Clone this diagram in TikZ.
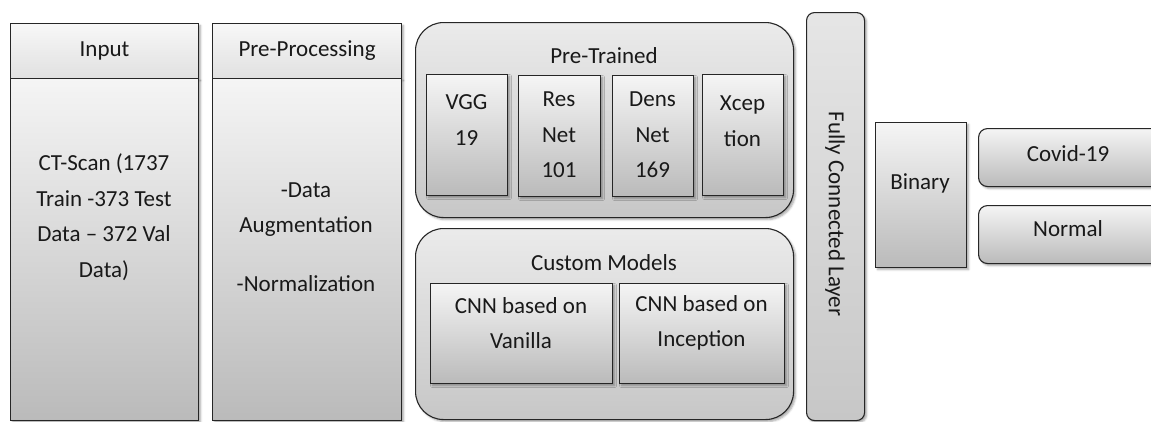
\documentclass[tikz,border=0pt]{standalone}
\usepackage{fontspec}
\setmainfont{Carlito}
\usetikzlibrary{shadows.blur}
\begin{document}
\begin{tikzpicture}[x=1pt,y=-1pt,
  every node/.style={font=\fontsize{23}{35.5}\selectfont, text=black!90, align=center, inner sep=0pt},
  panel/.style={draw=black!85, line width=1.1pt, top color=black!4, bottom color=black!27,
    anchor=north west,
    blur shadow={shadow xshift=2pt, shadow yshift=-2pt, shadow blur radius=2pt, shadow opacity=35}},
  head/.style={panel, top color=black!3, bottom color=black!12},
  group/.style={panel, rounded corners=28pt, top color=black!8, bottom color=black!22},
  pill/.style={panel, rounded corners=9pt}
]
\useasboundingbox (0,0) rectangle (1151,421);
% Input
\node[head, minimum width=188pt, minimum height=55pt] (inhead) at (10,23) {Input};
\node[panel, minimum width=188pt, minimum height=342pt] (inbody) at (10,78) {};
\node (intext) at (104,217) {CT-Scan (1737\\Train -373 Test\\Data – 372 Val\\Data)};
% Pre-processing
\node[head, minimum width=189pt, minimum height=55pt] (pphead) at (212,23) {Pre-Processing};
\node[panel, minimum width=189pt, minimum height=342pt] (ppbody) at (212,78) {};
\node (pptext) at (306,237) {-Data\\Augmentation\\[23.5pt]-Normalization};
% Pre-trained
\node[group, minimum width=378pt, minimum height=195pt] (pretrained) at (415,22) {};
\node (ptlabel) at (604,56) {Pre-Trained};
\node[panel, minimum width=81pt, minimum height=121pt] (vgg) at (426,74) {};
\node (vggtext) at (466.5,120) {VGG\\19};
\node[panel, minimum width=82pt, minimum height=121pt] (resnet) at (518,75) {};
\node (restext) at (559,135) {Res\\Net\\101};
\node[panel, minimum width=81pt, minimum height=121pt] (densnet) at (612,75) {};
\node (denstext) at (652.5,135) {Dens\\Net\\169};
\node[panel, minimum width=81pt, minimum height=121pt] (xcep) at (702,74) {};
\node (xceptext) at (742.5,121) {Xcep\\tion};
% Custom models
\node[group, minimum width=378pt, minimum height=191pt] (custom) at (415,228) {};
\node (cmlabel) at (604,263) {Custom Models};
\node[panel, minimum width=182pt, minimum height=100pt] (cnnv) at (430,283) {};
\node (cnnvtext) at (521,323) {CNN based on\\Vanilla};
\node[panel, minimum width=165pt, minimum height=100pt] (cnni) at (619,283) {};
\node (cnnitext) at (701.5,323) {CNN based on\\Inception};
% Fully connected
\node[panel, rounded corners=8pt, minimum width=58pt, minimum height=408pt, top color=black!10, bottom color=black!22] (fc) at (806,12) {};
\node[rotate=-90] (fctext) at (835,214) {Fully Connected Layer};
% Binary
\node[panel, minimum width=91pt, minimum height=145pt] (binary) at (875,122) {};
\node (bintext) at (920,183) {Binary};
% Outputs
\node[pill, minimum width=185pt, minimum height=58pt] (covid) at (978,128) {};
\node (covidtext) at (1068,154) {Covid-19};
\node[pill, minimum width=185pt, minimum height=58pt] (normal) at (978,205) {};
\node (normaltext) at (1068,229) {Normal};
\end{tikzpicture}
\end{document}
